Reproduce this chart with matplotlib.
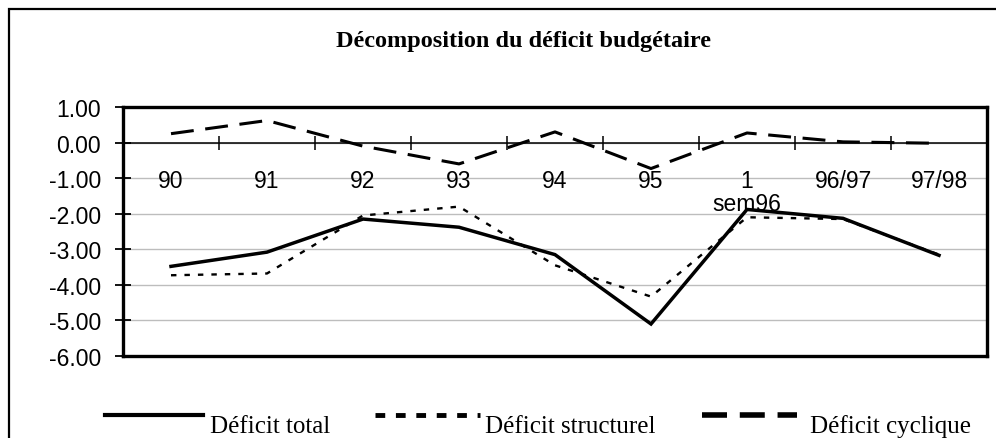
import matplotlib.pyplot as plt
from matplotlib.lines import Line2D
from matplotlib.patches import Rectangle

# values
periods = ["90", "91", "92", "93", "94", "95", "1\nsem96", "96/97", "97/98"]
deficit_total = [-3.48, -3.08, -2.15, -2.38, -3.15, -5.10, -1.88, -2.13, -3.17]
deficit_structurel = [-3.73, -3.68, -2.05, -1.80, -3.45, -4.33, -2.10, -2.15, -3.15]
deficit_cyclique = [0.25, 0.62, -0.10, -0.60, 0.30, -0.73, 0.27, 0.02, -0.02]
yticks = [1, 0, -1, -2, -3, -4, -5, -6]

sans = "Liberation Sans"
serif = "Liberation Serif"

fig = plt.figure(figsize=(9.96, 4.39), dpi=100)
ax = fig.add_axes([123 / 996, 1 - 357 / 439, 864 / 996, 249 / 439])

x = list(range(len(periods)))
ax.plot(x, deficit_structurel, color="black", lw=1.7, linestyle=(0, (2.3, 3.4)))
ax.plot(x, deficit_total, color="black", lw=2.5, solid_joinstyle="miter")
ax.plot(x, deficit_cyclique, color="black", lw=2.2, linestyle=(0, (7.5, 3.8)))

ax.set_xlim(-0.5, len(periods) - 0.5)
ax.set_ylim(-6, 1)

# zero line with crossing ticks between categories
ax.axhline(0, color="black", lw=1.1, zorder=1)
ax.vlines([i + 0.5 for i in x[:-1]], -0.22, 0.18, color="black", lw=1.1)

ax.set_xticks([])
for i, lab in enumerate(periods):
    ax.text(i, -0.74, lab, ha="center", va="top", fontsize=16.5,
            family=sans, linespacing=1.0)

ax.set_yticks(yticks)
ax.set_yticklabels([f"{v:.2f}" for v in yticks], family=sans, fontsize=16.5)
ax.tick_params(axis="y", direction="inout", length=12, width=1.3, pad=10)
ax.yaxis.grid(True, color="#bdbdbd", lw=1.0)
ax.set_axisbelow(True)
for sp in ax.spines.values():
    sp.set_linewidth(2.4)

fig.text(524 / 996, 1 - 41 / 439, "Décomposition du déficit budgétaire",
         ha="center", va="center", family=serif, fontweight="bold", fontsize=17.5)

# legend drawn along the bottom
leg_y = 1 - 416 / 439
handles = [
    ((105, 203), dict(lw=3.0, linestyle="-"), 210, "Déficit total"),
    ((375, 480), dict(lw=3.5, linestyle=(0, (2, 2.2))), 485, "Déficit structurel"),
    ((702, 797), dict(lw=4.0, linestyle=(0, (4.5, 2.3))), 810, "Déficit cyclique"),
]
for (x0, x1), style, tx, label in handles:
    fig.add_artist(Line2D([x0 / 996, x1 / 996], [leg_y, leg_y],
                          transform=fig.transFigure, color="black", **style))
    fig.text(tx / 996, 1 - 433 / 439, label, ha="left", va="baseline",
             family=serif, fontsize=18)

# outer chart frame (runs off the right and bottom edges)
fig.add_artist(Rectangle((9 / 996, -0.2), 1.3, 1.2 - 10 / 439, fill=False,
                         lw=1.6, edgecolor="black", transform=fig.transFigure))

fig.savefig("out.png", dpi=100)
